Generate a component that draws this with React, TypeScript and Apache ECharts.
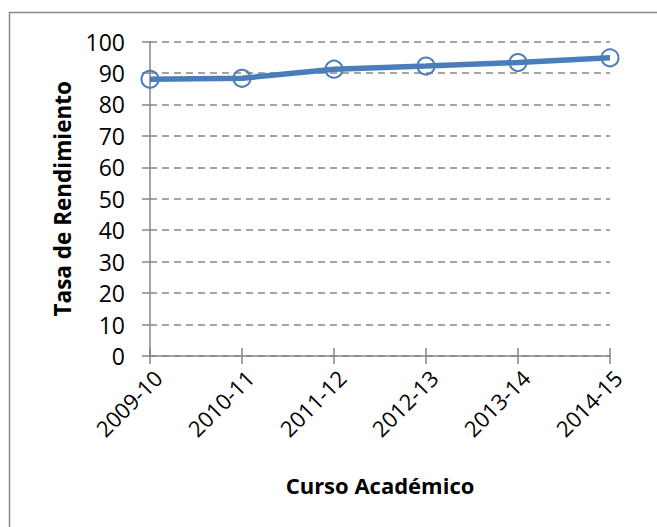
import React, { useEffect, useRef } from "react";
import * as echarts from "echarts";

const categories = ["2009-10", "2010-11", "2011-12", "2012-13", "2013-14", "2014-15"];
const tasaRendimiento = [88.0, 88.3, 91.2, 92.2, 93.3, 94.8];
const yTicks = { min: 0, max: 100, interval: 10 };
const yAxisName = "Tasa de Rendimiento";
const xAxisName = "Curso Académico";

const FONT = "Open Sans";
const GRAY = "#868686";
const BLUE = "#4A7EBB";

export default function App() {
  const ref = useRef<HTMLDivElement>(null);
  useEffect(() => {
    if (!ref.current) return;
    const chart = echarts.init(ref.current, undefined, { renderer: "svg" });
    chart.setOption({
      animation: false,
      backgroundColor: "#ffffff",
      graphic: [
        {
          type: "rect",
          shape: { x: 9.5, y: 12.5, width: 700, height: 600 },
          style: { fill: "none", stroke: "#898989", lineWidth: 1.5 },
          silent: true,
        },
      ],
      grid: { left: 150, right: 47, top: 41.5, bottom: 171, containLabel: false },
      xAxis: [
        {
          type: "category",
          data: categories,
          position: "bottom",
          boundaryGap: false,
          name: xAxisName,
          nameLocation: "middle",
          nameGap: 118,
          nameTextStyle: { fontFamily: FONT, fontSize: 22, fontWeight: "bold", color: "#000" },
          axisLine: { show: true, lineStyle: { color: GRAY, width: 1.5 } },
          axisTick: { show: true, alignWithLabel: true, length: 8, lineStyle: { color: GRAY, width: 1.5 } },
          axisLabel: {
            rotate: 45,
            margin: 10,
            verticalAlign: "top",
            fontFamily: FONT,
            fontSize: 22,
            color: "#000",
            interval: 0,
          },
          splitLine: { show: false },
        },
        {
          type: "category",
          data: categories,
          position: "bottom",
          boundaryGap: false,
          axisLine: { show: false },
          axisTick: { show: true, inside: true, length: 8, lineStyle: { color: GRAY, width: 1.5 } },
          axisLabel: { show: false },
          splitLine: { show: false },
        },
      ],
      yAxis: {
        type: "value",
        min: yTicks.min,
        max: yTicks.max,
        interval: yTicks.interval,
        name: yAxisName,
        nameLocation: "middle",
        nameGap: 76,
        nameTextStyle: { fontFamily: FONT, fontSize: 22.5, fontWeight: "bold", color: "#000" },
        axisLine: { show: true, lineStyle: { color: GRAY, width: 1.5 } },
        axisTick: { show: true, length: 8, lineStyle: { color: GRAY, width: 1.5 } },
        axisLabel: { margin: 25, fontFamily: FONT, fontSize: 23, color: "#000" },
        splitLine: { show: true, lineStyle: { color: GRAY, width: 1.5, type: [7, 5] } },
      },
      series: [
        {
          type: "line",
          data: tasaRendimiento,
          xAxisIndex: 0,
          symbol: "circle",
          symbolSize: 17,
          showSymbol: true,
          lineStyle: { color: BLUE, width: 5.5 },
          itemStyle: { color: "rgba(0,0,0,0)", borderColor: BLUE, borderWidth: 2 },
          z: 3,
        },
      ],
    });
    return () => chart.dispose();
  }, []);
  return (
    <div
      ref={ref}
      style={{ position: "fixed", left: 0, top: 0, width: 657, height: 527 }}
    />
  );
}
